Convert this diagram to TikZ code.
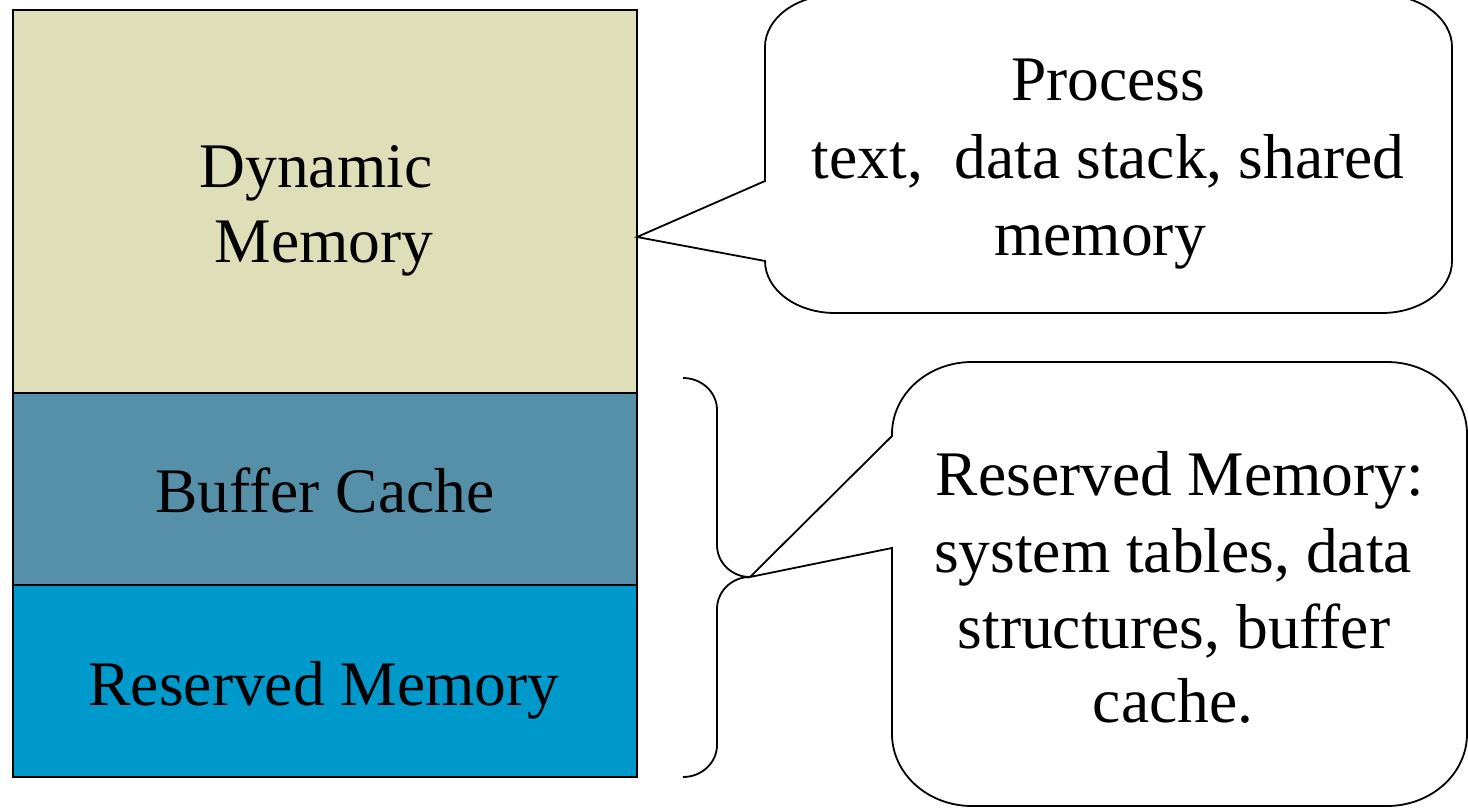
\documentclass[tikz,border=0pt]{standalone}
\usepackage{fontspec}
\setmainfont{Liberation Serif}
\definecolor{dyncol}{RGB}{222,223,184}
\definecolor{bufcol}{RGB}{85,143,168}
\definecolor{rescol}{RGB}{0,153,204}
\tikzset{
  block/.style={draw=black, line width=1.6pt, inner sep=0pt, outer sep=0pt, anchor=north west},
  callout/.style={draw=black, line width=1.8pt, fill=white, line join=miter},
  bracestyle/.style={draw=black, line width=1.8pt},
  lbl/.style={anchor=base, inner sep=0pt, font=\fontsize{63.5}{77}\selectfont}
}
\begin{document}
\begin{tikzpicture}[x=1pt,y=-1pt]
\useasboundingbox (0,0) rectangle (1468,808);
% memory stack
\node[block, fill=dyncol, minimum width=624pt, minimum height=383pt] (dyn) at (13,10) {};
\node[block, fill=bufcol, minimum width=624pt, minimum height=192pt] (buf) at (13,393) {};
\node[block, fill=rescol, minimum width=624pt, minimum height=192pt] (res) at (13,585) {};
\node[lbl] (dynA) at (316,187) {Dynamic};
\node[lbl] (dynB) at (324,262) {Memory};
\node[lbl] (bufT) at (325,512) {Buffer Cache};
\node[lbl] (resT) at (324,705) {Reserved Memory};
% pointer tips
\coordinate (tipA) at (637,237);
\coordinate (bracetip) at (750,577);
% callout 1
\path[callout] (765,47) .. controls (765,18.3) and (796.3,-5) .. (835,-5)
  -- (1382,-5) .. controls (1420.7,-5) and (1452,18.3) .. (1452,47)
  -- (1452,261) .. controls (1452,289.7) and (1420.7,313) .. (1382,313)
  -- (835,313) .. controls (796.3,313) and (765,289.7) .. (765,261)
  -- (tipA) -- (765,181) -- cycle;
\node[lbl] (c1a) at (1108,100) {Process};
\node[lbl] (c1b) at (1108,178) {text,\ \ data stack, shared};
\node[lbl] (c1c) at (1100,255) {memory};
% brace
\path[bracestyle] (683,378) .. controls (701.8,378) and (717,392.3) .. (717,410)
  -- (717,545) .. controls (717,562.7) and (731.8,577) .. (bracetip)
  .. controls (731.8,577) and (717,591.3) .. (717,609)
  -- (717,745) .. controls (717,762.7) and (701.8,777) .. (683,777);
% callout 2
\path[callout] (892,434) .. controls (892,394.3) and (927.8,362) .. (972,362)
  -- (1387,362) .. controls (1431.2,362) and (1467,394.3) .. (1467,434)
  -- (1467,734) .. controls (1467,773.7) and (1431.2,806) .. (1387,806)
  -- (972,806) .. controls (927.8,806) and (892,773.7) .. (892,734)
  -- (892,548) -- (bracetip) -- (892,436) -- cycle;
\node[lbl] (c2a) at (1180,495) {Reserved Memory:};
\node[lbl] (c2b) at (1173,572) {system tables, data};
\node[lbl] (c2c) at (1174,648) {structures, buffer};
\node[lbl] (c2d) at (1173,722) {cache.};
\end{tikzpicture}
\end{document}
